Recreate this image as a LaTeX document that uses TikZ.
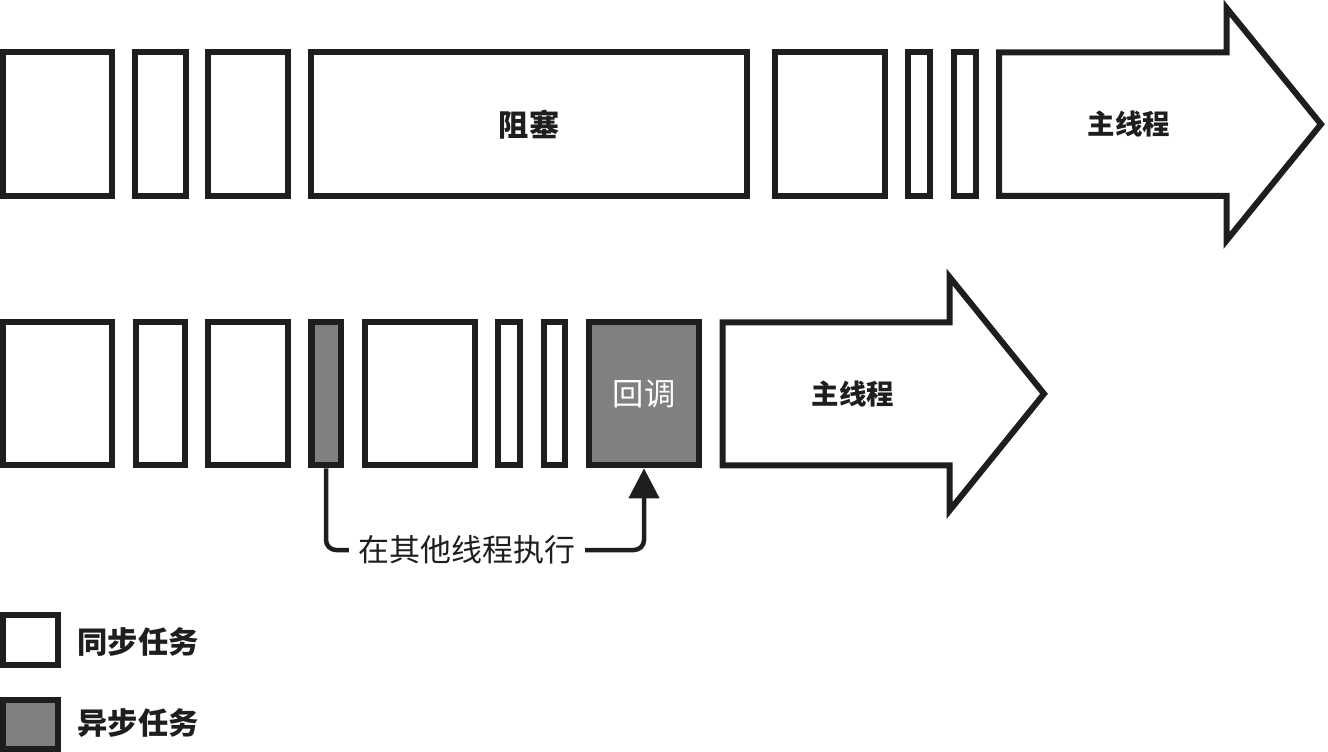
\documentclass[tikz,border=0pt]{standalone}
\usepackage{fontspec}
\newfontfamily\cjk{Noto Sans CJK SC}
\usetikzlibrary{arrows.meta}
\definecolor{ink}{HTML}{1E1E1E}
\definecolor{asyncgray}{HTML}{808080}
\begin{document}
\begin{tikzpicture}[x=0.01cm,y=-0.01cm,
  box/.style={draw=ink,line width=0.06cm,rectangle,inner sep=0pt,fill=white},
  syncbox/.style={box},
  asyncbox/.style={box,fill=asyncgray},
  toprow/.style={minimum height=1.435cm},
  botrow/.style={minimum height=1.43cm},
  bigarrow/.style={draw=ink,line width=0.06cm,fill=white,line join=miter},
  boldlbl/.style={font=\cjk\bfseries\fontsize{8.6}{10}\selectfont,text=ink,inner sep=0pt},
  arrowlbl/.style={font=\cjk\bfseries\fontsize{7.8}{9}\selectfont,text=ink,inner sep=0pt},
  conn/.style={draw=ink,line width=0.045cm,rounded corners=0.1cm},
]
\useasboundingbox (0,0) rectangle (1328,752);

% ---- top row ----
\node[syncbox,toprow,minimum width=1.09cm] (a1) at (57.5,124.25) {};
\node[syncbox,toprow,minimum width=0.50cm] (a2) at (160.5,124.25) {};
\node[syncbox,toprow,minimum width=0.79cm] (a3) at (248,124.25) {};
\node[syncbox,toprow,minimum width=4.36cm,font=\cjk\bfseries\fontsize{8.6}{10}\selectfont,text=ink] (a4) at (529,124.25) {阻塞};
\node[syncbox,toprow,minimum width=1.10cm] (a5) at (830,124.25) {};
\node[syncbox,toprow,minimum width=0.22cm] (a6) at (919,124.25) {};
\node[syncbox,toprow,minimum width=0.22cm] (a7) at (964.5,124.25) {};
\draw[bigarrow] (999,52.5) -- (1226.5,52.5) -- (1226.5,8) -- (1321,124.25)
  -- (1226.5,240.5) -- (1226.5,196) -- (999,196) -- cycle;
\node[arrowlbl] (m1) at (1129,124.25) {主线程};

% ---- bottom row ----
\node[syncbox,botrow,minimum width=1.09cm] (b1) at (57.5,393.8) {};
\node[syncbox,botrow,minimum width=0.49cm] (b2) at (160.5,393.8) {};
\node[syncbox,botrow,minimum width=0.79cm] (b3) at (248,393.8) {};
\node[asyncbox,botrow,minimum width=0.29cm] (as) at (326,393.8) {};
\node[syncbox,botrow,minimum width=1.095cm] (b5) at (419.75,393.8) {};
\node[syncbox,botrow,minimum width=0.22cm] (b6) at (509,393.8) {};
\node[syncbox,botrow,minimum width=0.215cm] (b7) at (554.25,393.8) {};
\node[asyncbox,botrow,minimum width=1.10cm,font=\cjk\fontsize{8.9}{10}\selectfont,text=white] (cb) at (644,393.8) {回调};
\draw[bigarrow] (722.5,322.3) -- (949.5,322.3) -- (949.5,277) -- (1044,393.8)
  -- (949.5,510.6) -- (949.5,465.3) -- (722.5,465.3) -- cycle;
\node[arrowlbl] (m2) at (853,393.8) {主线程};

% ---- connector ----
\node[font=\cjk\fontsize{8.8}{10}\selectfont,text=ink,inner xsep=0.09cm,inner ysep=0pt] (lbl) at (467,550) {在其他线程执行};
\draw[conn] (as.south) |- (lbl.west);
\draw[conn,-{Triangle[length=0.3cm,width=0.3cm]}] (lbl.east) -| (cb.south);

% ---- legend ----
\node[syncbox,minimum width=0.547cm,minimum height=0.494cm] (l1) at (30.35,640) {};
\node[asyncbox,minimum width=0.547cm,minimum height=0.494cm] (l2) at (30.35,724.4) {};
\node[boldlbl,anchor=west] (t1) at (77,642) {同步任务};
\node[boldlbl,anchor=west] (t2) at (77,723) {异步任务};
\end{tikzpicture}
\end{document}
